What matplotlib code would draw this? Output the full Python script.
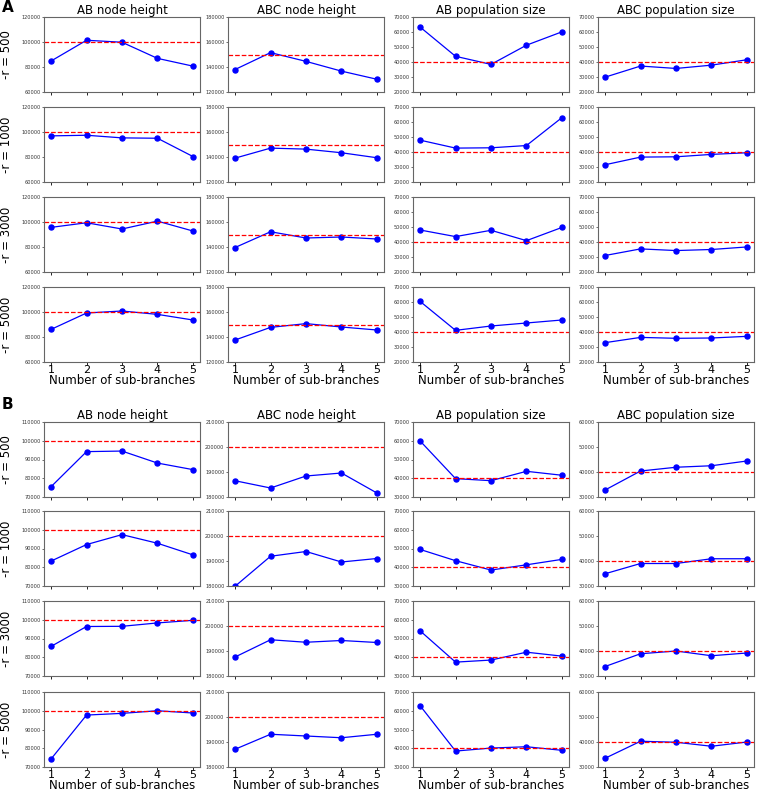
import numpy as np
import matplotlib
matplotlib.use("Agg")
import matplotlib.pyplot as plt

# x values and row labels
n_sub = [1, 2, 3, 4, 5]
r_labels = ["-r = 500", "-r = 1000", "-r = 3000", "-r = 5000"]
col_titles = ["AB node height", "ABC node height", "AB population size", "ABC population size"]

# panel A (rows = -r 500, 1000, 3000, 5000)
a_ab_height = [[84800, 101400, 99800, 86900, 80700],
               [96900, 97400, 95300, 95000, 80400],
               [95700, 99400, 94400, 100700, 92800],
               [86100, 99200, 100800, 98100, 93600]]
a_abc_height = [[138000, 151500, 144500, 136700, 130200],
                [139100, 147100, 146300, 143400, 139400],
                [139600, 152200, 147200, 148000, 146400],
                [137600, 147700, 150700, 148000, 145600]]
a_ab_pop = [[63300, 43800, 38400, 51200, 60100],
            [47900, 42600, 42800, 44300, 62900],
            [48000, 43600, 47800, 40900, 49700],
            [60400, 41100, 44000, 46000, 48000]]
a_abc_pop = [[29900, 37300, 35700, 37900, 41500],
             [31500, 36600, 36800, 38400, 39500],
             [31000, 35400, 34300, 35000, 36700],
             [32900, 36400, 35800, 36000, 37100]]

# panel B
b_ab_height = [[75500, 94200, 94500, 88100, 84600],
               [83300, 92100, 97400, 92800, 86600],
               [85800, 96400, 96500, 98300, 99700],
               [74300, 97700, 98600, 100000, 98800]]
b_abc_height = [[186500, 183600, 188400, 189600, 181600],
                [179900, 191900, 193800, 189600, 191000],
                [187600, 194500, 193500, 194200, 193400],
                [187100, 193100, 192400, 191700, 193100]]
b_ab_pop = [[59900, 39800, 38700, 43700, 41600],
            [49500, 43500, 38500, 41300, 44200],
            [54100, 37400, 38500, 42700, 40600],
            [62700, 38500, 40100, 40800, 38900]]
b_abc_pop = [[32800, 40400, 41900, 42500, 44400],
             [34900, 39000, 39000, 40900, 40900],
             [33800, 38900, 40000, 38100, 39200],
             [33500, 40300, 39900, 38300, 40000]]

# true values (red dashed) and y ranges per column
a_true = [100000, 150000, 40000, 40000]
b_true = [100000, 200000, 40000, 40000]
a_ylim = [(60000, 120000, 20000), (120000, 180000, 20000), (20000, 70000, 10000), (20000, 70000, 10000)]
b_ylim = [(70000, 110000, 10000), (180000, 210000, 10000), (30000, 70000, 10000), (30000, 60000, 10000)]

W, H = 757, 794
fig = plt.figure(figsize=(W / 100, H / 100), dpi=100)

lefts = [44, 228, 413, 598]
aw, ah = 156, 75
panels = [
    ("A", [a_ab_height, a_abc_height, a_ab_pop, a_abc_pop], a_true, a_ylim, [17, 107, 197, 287], 0),
    ("B", [b_ab_height, b_abc_height, b_ab_pop, b_abc_pop], b_true, b_ylim, [422, 511, 601, 692], 397),
]

for letter, cols, truth, ylims, tops, ly in panels:
    fig.text(2 / W, 1 - ly / H, letter, fontsize=11, fontweight="bold", va="top", ha="left")
    for c in range(4):
        for r in range(4):
            ax = fig.add_axes([lefts[c] / W, 1 - (tops[r] + ah) / H, aw / W, ah / H])
            ax.plot(n_sub, cols[c][r], "b-", lw=0.9, marker="o", ms=3.6)
            ax.axhline(truth[c], color="red", ls="--", lw=0.9)
            lo, hi, step = ylims[c]
            ax.set_ylim(lo, hi)
            ax.set_yticks(np.arange(lo, hi + 1, step))
            ax.set_xticks(n_sub)
            ax.tick_params(axis="y", labelsize=3.6, length=1.5, width=0.5, pad=1, colors="#333333")
            ax.tick_params(axis="x", labelsize=8, length=2, width=0.6, pad=0.5)
            for sp in ax.spines.values():
                sp.set_color("#666666")
                sp.set_linewidth(0.8)
            if r < 3:
                ax.set_xticklabels([])
            else:
                ax.set_xlabel("Number of sub-branches", fontsize=8.5, labelpad=-1)
            if r == 0:
                ax.set_title(col_titles[c], fontsize=8.5, pad=1.5)
            if c == 0:
                ax.set_ylabel(r_labels[r], fontsize=8.5)
                ax.yaxis.set_label_coords(-0.2, 0.5)

fig.savefig("out.png", dpi=100)
